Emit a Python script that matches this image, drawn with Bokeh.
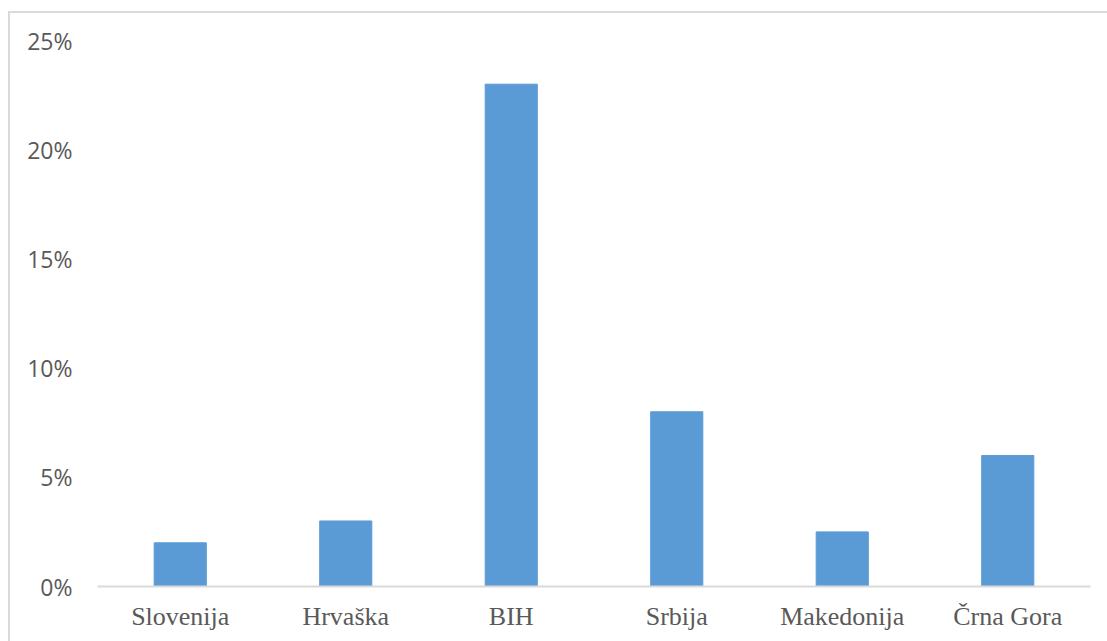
from bokeh.plotting import figure
from bokeh.embed import file_html
from bokeh.resources import INLINE
from bokeh.models import Range1d, NumeralTickFormatter, FixedTicker

categories = ["Slovenija", "Hrvaška", "BIH", "Srbija", "Makedonija", "Črna Gora"]
values = [0.02, 0.03, 0.23, 0.08, 0.025, 0.06]
y_ticks = [0, 0.05, 0.10, 0.15, 0.20, 0.25]

p = figure(x_range=categories, width=1099, height=632,
           output_backend="svg", toolbar_location=None, tools="")
p.y_range = Range1d(0, 0.25)
p.x_range.range_padding = 0
p.min_border_left = 87
p.min_border_right = 19
p.min_border_top = 27
p.min_border_bottom = 59
p.outline_line_color = None
p.background_fill_color = "white"
p.border_fill_color = "white"
p.margin = (11, 0, 0, 8)
p.styles = {"border-top": "2px solid #d9d9d9", "border-left": "2px solid #d9d9d9"}

p.vbar(x=categories, top=values, width=0.315, color="#5B9BD5", line_color="#5B9BD5")

p.xgrid.grid_line_color = None
p.ygrid.grid_line_color = None

p.yaxis.ticker = FixedTicker(ticks=y_ticks)
p.yaxis.formatter = NumeralTickFormatter(format="0%")
p.yaxis.axis_line_color = None
p.yaxis.major_tick_line_color = None
p.yaxis.minor_tick_line_color = None
p.yaxis.major_label_text_font = "Open Sans"
p.yaxis.major_label_text_font_size = "23px"
p.yaxis.major_label_text_color = "#595959"
p.yaxis.major_label_standoff = 19

p.xaxis.axis_line_color = "#d9d9d9"
p.xaxis.axis_line_width = 2
p.xaxis.major_tick_line_color = None
p.xaxis.minor_tick_line_color = None
p.xaxis.major_label_text_font = "Liberation Serif"
p.xaxis.major_label_text_font_size = "26px"
p.xaxis.major_label_text_color = "#595959"
p.xaxis.major_label_standoff = 9

open("out.html", "w").write(file_html(p, INLINE))
